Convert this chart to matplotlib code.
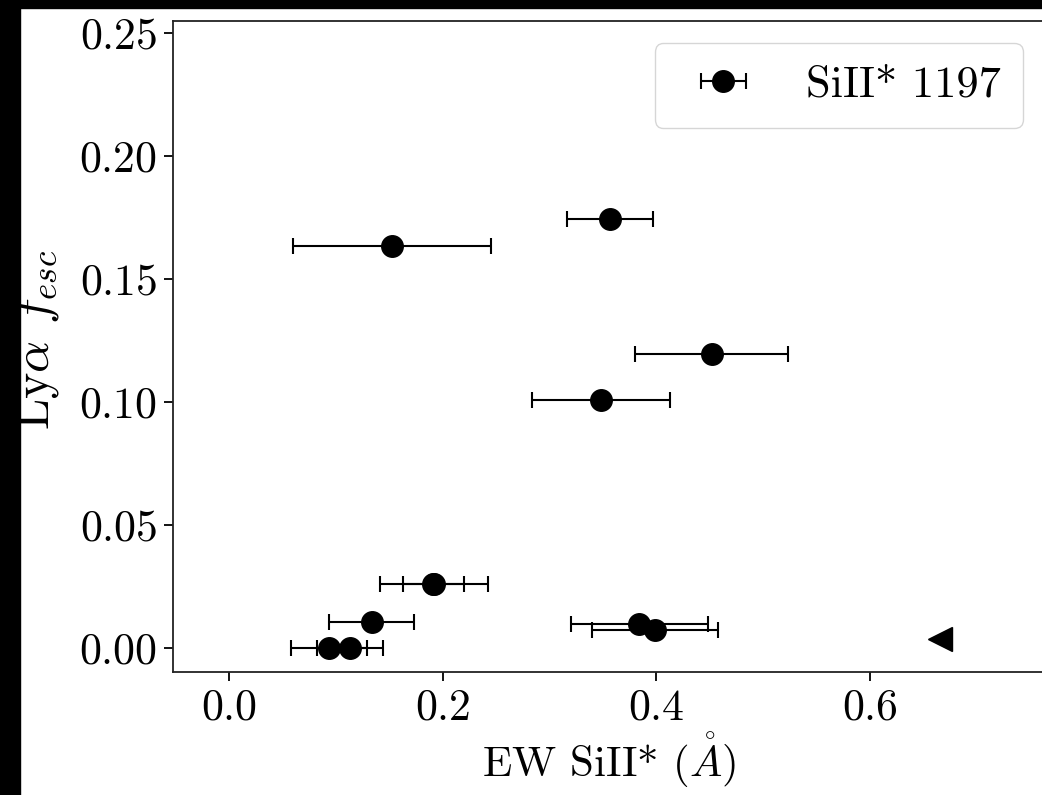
import matplotlib
matplotlib.use("Agg")
import matplotlib.pyplot as plt
from matplotlib.patches import Rectangle

plt.rcParams['font.family'] = 'serif'
plt.rcParams['font.serif'] = ['cmr10']
plt.rcParams['mathtext.fontset'] = 'cm'
plt.rcParams['axes.formatter.use_mathtext'] = True

# Si II* 1197 detections
ew = [0.1526, 0.3566, 0.452, 0.348, 0.191, 0.192, 0.1335, 0.0936, 0.1133, 0.384, 0.3987]
ew_err = [0.093, 0.040, 0.0716, 0.0646, 0.0285, 0.0505, 0.040, 0.0354, 0.0312, 0.0643, 0.0587]
fesc = [0.1634, 0.1744, 0.1195, 0.1008, 0.026, 0.026, 0.0107, 0.0, 0.0, 0.0098, 0.0073]

# upper limit
ew_lim = [0.6654]
fesc_lim = [0.0035]

fig = plt.figure(figsize=(10.42, 7.95), dpi=100)
ax = fig.add_axes([173 / 1042, 1 - 672 / 795, 872 / 1042, 651 / 795])

ax.errorbar(ew, fesc, xerr=ew_err, fmt='o', color='black', ms=15.5,
            elinewidth=1.5, capsize=5.5, capthick=1.5, label='SiII* 1197')
ax.plot(ew_lim, fesc_lim, '<', color='black', ms=17)

ax.set_xlim(-0.0524, 0.7637)
ax.set_ylim(-0.00976, 0.2549)
ax.set_xticks([0.0, 0.2, 0.4, 0.6])
ax.set_yticks([0.0, 0.05, 0.10, 0.15, 0.20, 0.25])

ax.set_xlabel(r'EW SiII* ($\mathring{A}$)', fontsize=31, labelpad=2)
ax.set_ylabel(r'Ly$\alpha$ $f_{esc}$', fontsize=36)
ax.yaxis.set_label_coords(-0.128, 0.51)
ax.tick_params(labelsize=31.5, length=6.5, width=1.3, pad=5)
for s in ax.spines.values():
    s.set_linewidth(1.3)
    s.set_color('#222222')

ax.legend(loc='upper right', fontsize=32, borderpad=0.5, handlelength=2.1)

# black border left over from the original crop
fig.add_artist(Rectangle((0, 0), 20 / 1042, 1, transform=fig.transFigure,
                         color='black', zorder=10))
fig.add_artist(Rectangle((0, 1 - 8 / 795), 1, 8 / 795, transform=fig.transFigure,
                         color='black', zorder=10))

fig.savefig('out.png', dpi=100)
